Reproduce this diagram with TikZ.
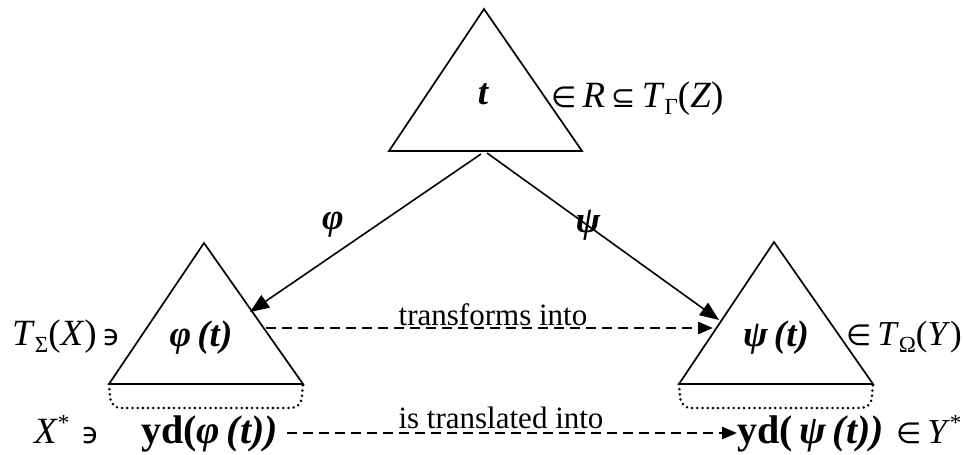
\documentclass[tikz,border=0pt]{standalone}
\usepackage{fontspec}
\setmainfont{Liberation Serif}
\newfontfamily\symf{DejaVu Sans}
\usetikzlibrary{arrows.meta}
\newcommand{\sbs}[1]{\raisebox{-7pt}{\fontsize{23}{23}\selectfont #1}}
\newcommand{\syf}[1]{{\symf\fontsize{29}{29}\selectfont #1}}
\newcommand{\stx}{\raisebox{13pt}{\fontsize{23}{23}\selectfont *}}
\begin{document}
\begin{tikzpicture}[x=1pt,y=-1pt,
  tri/.style={line width=1.7pt, line join=miter},
  arr/.style={line width=1.6pt, -{Triangle[length=19pt,width=15pt]}},
  darr/.style={line width=2.5pt, dash pattern=on 10pt off 6pt, -{Triangle[length=15pt,width=12pt]}},
  dots/.style={line width=2.8pt, dash pattern=on 0pt off 5.2pt, line cap=round, rounded corners=10pt},
  lbl/.style={font=\fontsize{31}{31}\selectfont, inner sep=0pt},
  mth/.style={font=\fontsize{37}{37}\selectfont, inner sep=0pt},
  mthr/.style={font=\fontsize{35}{35}\selectfont, inner sep=0pt},
  ydf/.style={font=\fontsize{40}{40}\selectfont, inner sep=0pt},
  bi/.style={font=\fontsize{37}{37}\selectfont\bfseries\itshape, inner sep=0pt}]
\useasboundingbox (0,0) rectangle (964,455);
% triangle corners
\coordinate (ta) at (484,9);   \coordinate (tl) at (389,151); \coordinate (tr) at (582,151);
\coordinate (la) at (204,243); \coordinate (ll) at (109,384); \coordinate (lr) at (303,384);
\coordinate (ra) at (774,242); \coordinate (rl) at (679,384); \coordinate (rr) at (873,384);
\draw[tri] (ta) -- (tl) -- (tr) -- cycle;
\draw[tri] (la) -- (ll) -- (lr) -- cycle;
\draw[tri] (ra) -- (rl) -- (rr) -- cycle;
% dotted yields
\draw[dots] (ll) -- (111,408) -- (301,408) -- (lr);
\draw[dots] (rl) -- (681,408) -- (871,408) -- (rr);
% texts
\node[bi] (t) at (483,94) {t};
\node[mth, anchor=base west] (tlab) at (551,107) {\syf{∈}\,\textit{R}\,\syf{⊆}\,\textit{T}\sbs{Γ}(\textit{Z})};
\node[bi] (phit) at (201,338) {φ\,(t)};
\node[bi] (psit) at (776,338) {ψ\,(t)};
\node[mth, anchor=base west] (ts) at (12,345) {\textit{T}\sbs{Σ}(\textit{X})\,\syf{϶}};
\node[mthr, anchor=base west] (to) at (846,345) {\syf{∈}\,\textit{T}\sbs{Ω}(\textit{Y})};
\node[mth, anchor=base west] (xs) at (34,443) {\textit{X}\stx\,\,\syf{϶}};
\node[ydf, anchor=base west] (ydphi) at (141,443) {\textbf{yd(}\textbf{\textit{φ\,(t))}}};
\node[ydf, anchor=base west] (ydpsi) at (737,443) {\textbf{yd(}\,\textbf{\textit{ψ\,(t))}}};
\node[mthr, anchor=base west] (ys) at (896,443) {\syf{∈}\,\textit{Y}\stx};
\node[bi] (phil) at (333,225) {φ};
\node[bi] (psil) at (588,225) {ψ};
% arrows
\coordinate (s1) at (481,154); \coordinate (e1) at (250,312);
\coordinate (s2) at (487,153); \coordinate (e2) at (719,320);
\draw[arr] (s1) -- (e1);
\draw[arr] (s2) -- (e2);
\coordinate (d1s) at (266,328); \coordinate (d1e) at (713,328);
\coordinate (d2s) at (287,433); \coordinate (d2e) at (737,433);
\draw[darr] (d1s) -- (d1e);
\draw[darr] (d2s) -- (d2e);
\node[lbl, anchor=base] (tr1) at (493,325) {transforms into};
\node[lbl, anchor=base] (tr2) at (501,428) {is translated into};
\end{tikzpicture}
\end{document}
